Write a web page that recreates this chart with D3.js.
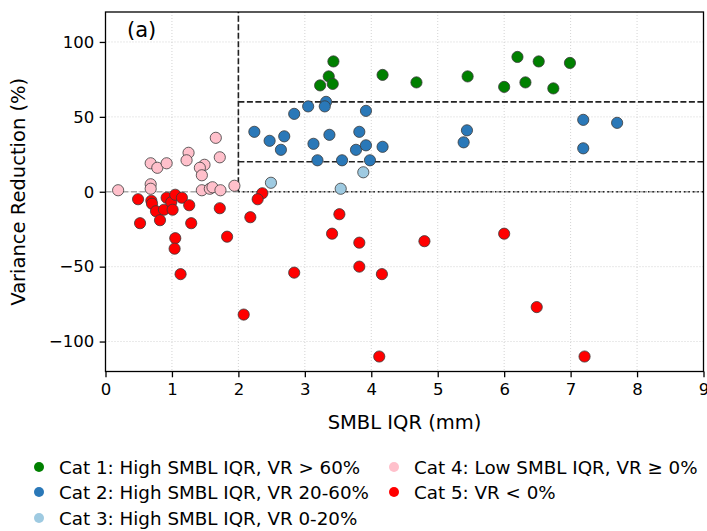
<!DOCTYPE html>
<html lang="en">
<head>
<meta charset="utf-8">
<title>Variance Reduction vs SMBL IQR</title>
<script src="https://cdn.jsdelivr.net/npm/d3@7/dist/d3.min.js"></script>
<style>
body { margin: 0; background: #fff; }
svg { font-family: "DejaVu Sans", sans-serif; }
</style>
</head>
<body>
<script>
// data
var cat1X = [3.43, 3.36, 3.23, 3.42, 4.17, 4.68, 5.45, 6.20, 6.52, 6.99, 6.00, 6.32, 6.74];
var cat1Y = [87, 77, 71, 72, 78, 73, 77, 90, 87, 86, 70, 73, 69];

var cat2X = [2.84, 2.24, 2.47, 2.69, 2.64, 3.05, 3.32, 3.30, 3.92, 3.37, 3.82, 3.13, 3.77, 3.92, 4.17, 3.19, 3.56, 3.98, 5.44, 5.39, 7.19, 7.70, 7.19];
var cat2Y = [52, 40, 34, 37, 28, 57, 60, 57, 54, 38, 40, 32, 28, 31, 30, 21, 21, 21, 41, 33, 48, 46, 29];

var cat3X = [2.49, 3.88, 3.54];
var cat3Y = [6, 13, 2];

var cat4X = [0.19, 0.68, 0.78, 0.92, 0.68, 0.68, 1.66, 1.25, 1.22, 1.72, 1.49, 1.42, 1.45, 1.45, 1.57, 1.61, 1.73, 1.94];
var cat4Y = [1, 19, 16, 19, 5, 2, 36, 26, 21, 23, 18, 16, 11, 1, 2, 3, 1, 4];

var cat5X = [0.49, 0.69, 0.70, 0.76, 0.88, 0.92, 0.99, 1.05, 1.15, 1.01, 1.26, 0.52, 0.82, 1.29, 1.72, 1.83, 1.05, 1.04, 1.13,
             2.36, 2.29, 2.18, 2.08, 2.84, 3.52, 3.41, 3.82, 4.80, 3.82, 4.16, 4.12, 6.00, 6.49, 7.21];
var cat5Y = [-5, -6, -8, -13, -12, -4, -7, -2, -4, -12, -9, -21, -19, -21, -11, -30, -31, -38, -55,
             -1, -5, -17, -82, -54, -15, -28, -34, -33, -50, -55, -110, -28, -77, -110];

var categories = [
  "Cat 1: High SMBL IQR, VR > 60%",
  "Cat 2: High SMBL IQR, VR 20-60%",
  "Cat 3: High SMBL IQR, VR 0-20%",
  "Cat 4: Low SMBL IQR, VR \u2265 0%",
  "Cat 5: VR < 0%"
];
var colors = ["#008000", "#2a78b8", "#9ecae1", "#ffc0cb", "#ff0000"];
var xTicks = [0, 1, 2, 3, 4, 5, 6, 7, 8, 9];
var yTicks = [-100, -50, 0, 50, 100];

var W = 707, H = 531;
var pL = 105.5, pR = 703.5, pT = 12, pB = 371.5;

var svg = d3.select("body").append("svg")
  .attr("width", W)
  .attr("height", H);

var x = d3.scaleLinear().domain([0, 9]).range([pL, pR]);
var y = d3.scaleLinear().domain([-120, 120]).range([pB, pT]);

// grid
svg.append("g").selectAll("line").data(xTicks.slice(1, -1)).enter().append("line")
  .attr("x1", function(d) { return x(d); }).attr("x2", function(d) { return x(d); })
  .attr("y1", pT).attr("y2", pB)
  .attr("stroke", "#c8c8c8").attr("stroke-width", 0.8).attr("stroke-dasharray", "1,2");
svg.append("g").selectAll("line").data(yTicks).enter().append("line")
  .attr("x1", pL).attr("x2", pR)
  .attr("y1", function(d) { return y(d); }).attr("y2", function(d) { return y(d); })
  .attr("stroke", "#c8c8c8").attr("stroke-width", 0.8).attr("stroke-dasharray", "1,2");

// reference lines
svg.append("line")
  .attr("x1", pL).attr("x2", pR).attr("y1", y(0)).attr("y2", y(0))
  .attr("stroke", "#aaa").attr("stroke-width", 1.6).attr("stroke-dasharray", "6,2.5");
svg.append("line")
  .attr("x1", x(2)).attr("x2", pR).attr("y1", y(0)).attr("y2", y(0))
  .attr("stroke", "#222").attr("stroke-width", 1.6).attr("stroke-dasharray", "1.5,3");
svg.append("line")
  .attr("x1", x(2)).attr("x2", x(2)).attr("y1", y(0)).attr("y2", pT)
  .attr("stroke", "#222").attr("stroke-width", 1.6).attr("stroke-dasharray", "6,2.5");
[60, 20].forEach(function(v) {
  svg.append("line")
    .attr("x1", x(2)).attr("x2", pR).attr("y1", y(v)).attr("y2", y(v))
    .attr("stroke", "#222").attr("stroke-width", 1.6).attr("stroke-dasharray", "6,2.5");
});

// points
var groups = [[cat4X, cat4Y], [cat5X, cat5Y], [cat3X, cat3Y], [cat2X, cat2Y], [cat1X, cat1Y]];
var groupColor = [colors[3], colors[4], colors[2], colors[1], colors[0]];
groups.forEach(function(g, i) {
  svg.append("g").selectAll("circle")
    .data(d3.range(g[0].length))
    .enter()
    .append("circle")
    .attr("cx", function(k) { return x(g[0][k]); })
    .attr("cy", function(k) { return y(g[1][k]); })
    .attr("r", 5.6)
    .attr("fill", groupColor[i])
    .attr("stroke", "#3a3a3a")
    .attr("stroke-width", 0.8);
});

// axes
var xAxis = d3.axisBottom(x).tickValues(xTicks).tickSize(5.8).tickPadding(5.5);
var yAxis = d3.axisLeft(y).tickValues(yTicks).tickSize(5.8).tickPadding(5.5)
  .tickFormat(function(d) { return d < 0 ? "\u2212" + Math.abs(d) : d; });

var gx = svg.append("g").attr("transform", "translate(0," + pB + ")").call(xAxis);
var gy = svg.append("g").attr("transform", "translate(" + pL + ",0)").call(yAxis);
[gx, gy].forEach(function(g) {
  g.select(".domain").remove();
  g.selectAll("line").attr("stroke", "#000").attr("stroke-width", 1.3);
  g.selectAll("text").attr("font-size", "16.5px").attr("fill", "#000")
    .attr("font-family", "DejaVu Sans");
});

// frame
svg.append("rect")
  .attr("x", pL).attr("y", pT)
  .attr("width", pR - pL).attr("height", pB - pT)
  .attr("fill", "none").attr("stroke", "#000").attr("stroke-width", 1.3);

// labels
svg.append("text")
  .attr("x", (pL + pR) / 2).attr("y", 429)
  .attr("text-anchor", "middle").attr("font-size", "19.5px")
  .text("SMBL IQR (mm)");
svg.append("text")
  .attr("transform", "translate(25," + ((pT + pB) / 2) + ") rotate(-90)")
  .attr("text-anchor", "middle").attr("font-size", "19.5px")
  .text("Variance Reduction (%)");
svg.append("text")
  .attr("x", 127).attr("y", 37)
  .attr("font-size", "21px")
  .text("(a)");

// legend
var legendPos = [[39, 467], [39, 492], [39, 518], [394, 467], [394, 492]];
var lg = svg.append("g").selectAll("g")
  .data(categories)
  .enter()
  .append("g")
  .attr("transform", function(d, i) { return "translate(" + legendPos[i][0] + "," + legendPos[i][1] + ")"; });
lg.append("circle").attr("r", 5).attr("fill", function(d, i) { return colors[i]; });
lg.append("text")
  .attr("x", 20).attr("y", 6.5)
  .attr("font-size", "18.3px")
  .text(function(d) { return d; });
</script>
</body>
</html>
